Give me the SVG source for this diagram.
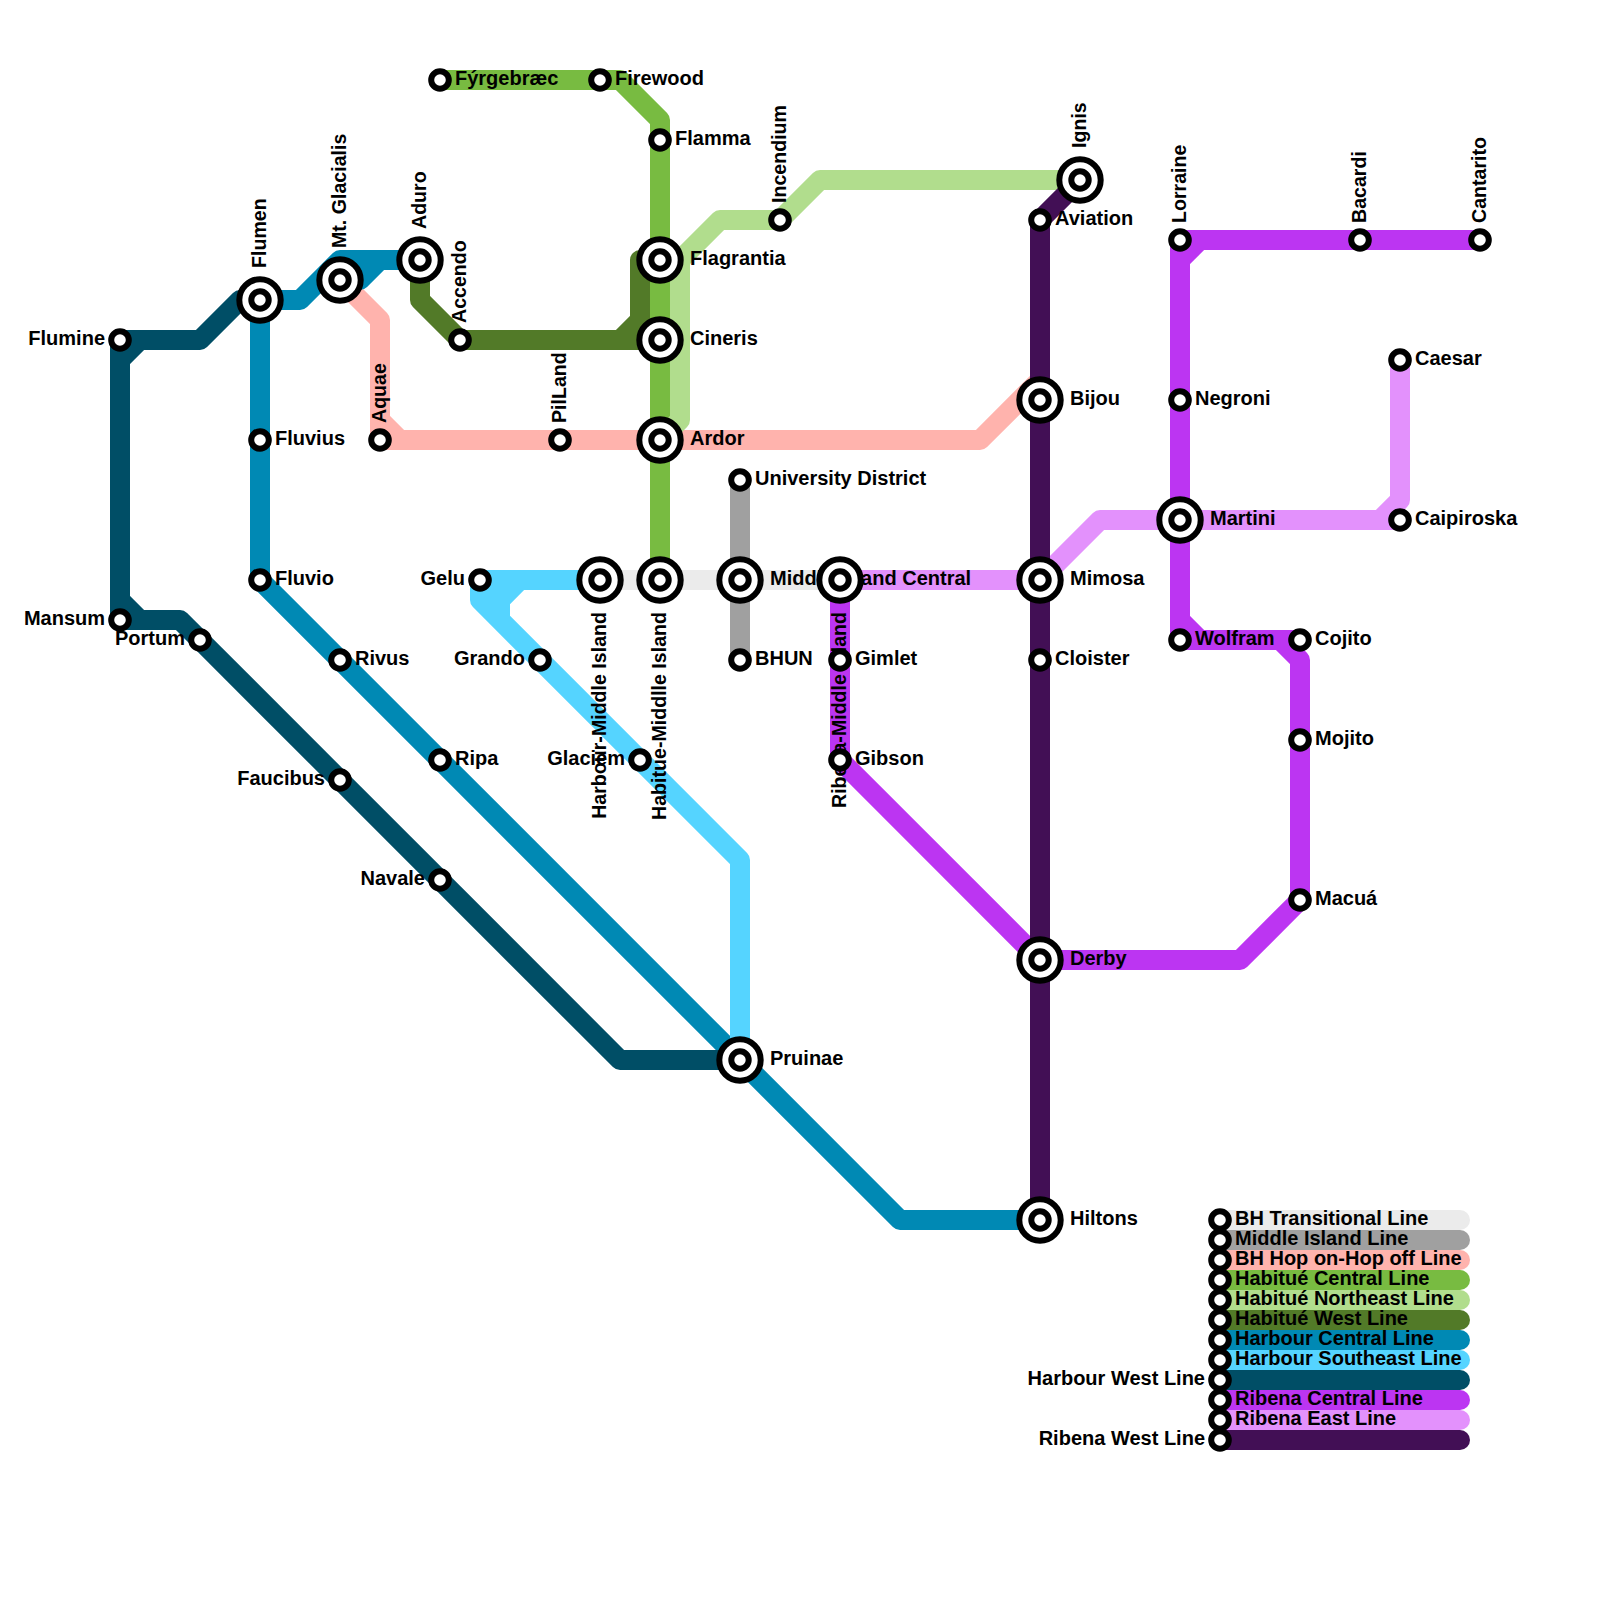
<svg xmlns="http://www.w3.org/2000/svg" width="1600" height="1600" viewBox="0 0 1600 1600">
<style>
.l{fill:none;stroke-width:20;stroke-linecap:round;stroke-linejoin:round}
.tr{stroke:#ebebeb}.mi{stroke:#a0a0a0}.hop{stroke:#ffb3ad}.hc{stroke:#78bb41}.hn{stroke:#b1dd8d}.hw{stroke:#527a28}
.bc{stroke:#0089b4}.bs{stroke:#55d4ff}.bw{stroke:#004e66}.rc{stroke:#bc35f2}.re{stroke:#e391fc}.rw{stroke:#420f55}
text{font-family:"Liberation Sans",Arial,sans-serif;font-weight:700;font-size:20px;fill:#000}
text.r{font-size:19.600px}
.e{text-anchor:end}
.o{fill:#fff;stroke:#000;stroke-width:6}
.s{fill:#fff;stroke:#000;stroke-width:6}
</style>
<defs>
<g id="st"><circle class="s" r="8.800"/></g>
<g id="ix"><circle class="o" r="20.700"/><circle class="s" r="8.700"/></g>
</defs>
<g id="connectors">
<path class="l tr" d="M600 580H840"/>
<path class="l mi" d="M740 480V660"/>
<path class="l hop" d="M340 280L380 320V420L400 440H980L1040 380M380 420V440H400"/>
<path class="l hc" d="M440 80H620L660 120V580"/>
<path class="l hn" d="M1080 180H820L780 220H720L680 260V420L660 440"/>
<path class="l hw" d="M660 260H640V320L620 340H460L420 300V260M620 340H660"/>
<path class="l bc" d="M1040 1220H900L260 580V300H300L340 260H420H380L360 280H340"/>
<path class="l bs" d="M480 580V600L740 860V1060M600 580H520L500 600V620M480 580H520M480 600L500 580M490 590V610"/>
<path class="l bw" d="M740 1060H620L180 620H140L120 600V360L140 340H200L240 300H260M120 360V340H140M120 600V620H140"/>
<path class="l rc" d="M1480 240H1200L1180 260V620L1200 640H1280L1300 660V900L1240 960H1040L840 760V580M1180 260V240H1200M1180 620V640H1200M1280 640H1300"/>
<path class="l re" d="M1400 360V500L1380 520H1100L1040 580H840M1380 520H1400"/>
<path class="l rw" d="M1040 1220V220L1080 180"/>
<path class="l tr" d="M1220 1220H1460"/>
<path class="l mi" d="M1220 1240H1460"/>
<path class="l hop" d="M1220 1260H1460"/>
<path class="l hc" d="M1220 1280H1460"/>
<path class="l hn" d="M1220 1300H1460"/>
<path class="l hw" d="M1220 1320H1460"/>
<path class="l bc" d="M1220 1340H1460"/>
<path class="l bs" d="M1220 1360H1460"/>
<path class="l bw" d="M1220 1380H1460"/>
<path class="l rc" d="M1220 1400H1460"/>
<path class="l re" d="M1220 1420H1460"/>
<path class="l rw" d="M1220 1440H1460"/>
</g>
<g id="labels">
<text x="455" y="85">Fýrgebræc</text>
<text x="615" y="85">Firewood</text>
<text x="675" y="145">Flamma</text>
<text x="690" y="265">Flagrantia</text>
<text x="690" y="345">Cineris</text>
<text x="690" y="445">Ardor</text>
<text x="275" y="445">Fluvius</text>
<text x="275" y="585">Fluvio</text>
<text x="355" y="665">Rivus</text>
<text x="455" y="765">Ripa</text>
<text x="770" y="1065">Pruinae</text>
<text x="1070" y="1225">Hiltons</text>
<text x="1070" y="965">Derby</text>
<text x="1055" y="665">Cloister</text>
<text x="1070" y="585">Mimosa</text>
<text x="1070" y="405">Bijou</text>
<text x="1055" y="225">Aviation</text>
<text x="755" y="485">University District</text>
<text x="770" y="585">Middle Island Central</text>
<text x="755" y="665">BHUN</text>
<text x="855" y="665">Gimlet</text>
<text x="855" y="765">Gibson</text>
<text x="1195" y="405">Negroni</text>
<text x="1210" y="525">Martini</text>
<text x="1195" y="645">Wolfram</text>
<text x="1315" y="645">Cojito</text>
<text x="1315" y="745">Mojito</text>
<text x="1315" y="905">Macuá</text>
<text x="1415" y="365">Caesar</text>
<text x="1415" y="525">Caipiroska</text>
<text class="e" x="105" y="345">Flumine</text>
<text class="e" x="105" y="625">Mansum</text>
<text class="e" x="185" y="645">Portum</text>
<text class="e" x="325" y="785">Faucibus</text>
<text class="e" x="425" y="885">Navale</text>
<text class="e" x="465" y="585">Gelu</text>
<text class="e" x="525" y="665">Grando</text>
<text class="e" x="625" y="765">Glaciem</text>
<text class="r" transform="translate(265.500 268) rotate(-90)">Flumen</text>
<text class="r" transform="translate(345.500 248) rotate(-90)">Mt. Glacialis</text>
<text class="r" transform="translate(425.500 229) rotate(-90)">Aduro</text>
<text class="r" transform="translate(465.500 323) rotate(-90)">Accendo</text>
<text class="r" transform="translate(385.500 423) rotate(-90)">Aquae</text>
<text class="r" transform="translate(565.500 423) rotate(-90)">PilLand</text>
<text class="r" transform="translate(785.500 203) rotate(-90)">Incendium</text>
<text class="r" transform="translate(1085.500 148) rotate(-90)">Ignis</text>
<text class="r" transform="translate(1185.500 223) rotate(-90)">Lorraine</text>
<text class="r" transform="translate(1365.500 223) rotate(-90)">Bacardi</text>
<text class="r" transform="translate(1485.500 223) rotate(-90)">Cantarito</text>
<text class="r e" transform="translate(605.500 612) rotate(-90)">Harbour-Middle Island</text>
<text class="r e" transform="translate(665.500 612) rotate(-90)">Habitue-Middlle Island</text>
<text class="r e" transform="translate(845.500 612) rotate(-90)">Ribena-Middle Island</text>
<text x="1235" y="1225">BH Transitional Line</text>
<text x="1235" y="1245">Middle Island Line</text>
<text x="1235" y="1265">BH Hop on-Hop off Line</text>
<text x="1235" y="1285">Habitué Central Line</text>
<text x="1235" y="1305">Habitué Northeast Line</text>
<text x="1235" y="1325">Habitué West Line</text>
<text x="1235" y="1345">Harbour Central Line</text>
<text x="1235" y="1365">Harbour Southeast Line</text>
<text class="e" x="1205" y="1385">Harbour West Line</text>
<text x="1235" y="1405">Ribena Central Line</text>
<text x="1235" y="1425">Ribena East Line</text>
<text class="e" x="1205" y="1445">Ribena West Line</text>
</g>
<g id="stations">
<use id="fyrgebraec" href="#st" x="440" y="80"/>
<use id="firewood" href="#st" x="600" y="80"/>
<use id="flamma" href="#st" x="660" y="140"/>
<use id="flagrantia" href="#ix" x="660" y="260"/>
<use id="cineris" href="#ix" x="660" y="340"/>
<use id="ardor" href="#ix" x="660" y="440"/>
<use id="habitue-mi" href="#ix" x="660" y="580"/>
<use id="harbour-mi" href="#ix" x="600" y="580"/>
<use id="mi-central" href="#ix" x="740" y="580"/>
<use id="ribena-mi" href="#ix" x="840" y="580"/>
<use id="university" href="#st" x="740" y="480"/>
<use id="bhun" href="#st" x="740" y="660"/>
<use id="gimlet" href="#st" x="840" y="660"/>
<use id="gibson" href="#st" x="840" y="760"/>
<use id="flumine" href="#st" x="120" y="340"/>
<use id="mansum" href="#st" x="120" y="620"/>
<use id="portum" href="#st" x="200" y="640"/>
<use id="faucibus" href="#st" x="340" y="780"/>
<use id="navale" href="#st" x="440" y="880"/>
<use id="flumen" href="#ix" x="260" y="300"/>
<use id="mt-glacialis" href="#ix" x="340" y="280"/>
<use id="aduro" href="#ix" x="420" y="260"/>
<use id="accendo" href="#st" x="460" y="340"/>
<use id="aquae" href="#st" x="380" y="440"/>
<use id="piland" href="#st" x="560" y="440"/>
<use id="fluvius" href="#st" x="260" y="440"/>
<use id="fluvio" href="#st" x="260" y="580"/>
<use id="rivus" href="#st" x="340" y="660"/>
<use id="ripa" href="#st" x="440" y="760"/>
<use id="pruinae" href="#ix" x="740" y="1060"/>
<use id="gelu" href="#st" x="480" y="580"/>
<use id="grando" href="#st" x="540" y="660"/>
<use id="glaciem" href="#st" x="640" y="760"/>
<use id="incendium" href="#st" x="780" y="220"/>
<use id="ignis" href="#ix" x="1080" y="180"/>
<use id="aviation" href="#st" x="1040" y="220"/>
<use id="bijou" href="#ix" x="1040" y="400"/>
<use id="mimosa" href="#ix" x="1040" y="580"/>
<use id="cloister" href="#st" x="1040" y="660"/>
<use id="derby" href="#ix" x="1040" y="960"/>
<use id="hiltons" href="#ix" x="1040" y="1220"/>
<use id="lorraine" href="#st" x="1180" y="240"/>
<use id="bacardi" href="#st" x="1360" y="240"/>
<use id="cantarito" href="#st" x="1480" y="240"/>
<use id="negroni" href="#st" x="1180" y="400"/>
<use id="martini" href="#ix" x="1180" y="520"/>
<use id="wolfram" href="#st" x="1180" y="640"/>
<use id="cojito" href="#st" x="1300" y="640"/>
<use id="mojito" href="#st" x="1300" y="740"/>
<use id="macua" href="#st" x="1300" y="900"/>
<use id="caesar" href="#st" x="1400" y="360"/>
<use id="caipiroska" href="#st" x="1400" y="520"/>
<use id="lg1" href="#st" x="1220" y="1220"/>
<use id="lg2" href="#st" x="1220" y="1240"/>
<use id="lg3" href="#st" x="1220" y="1260"/>
<use id="lg4" href="#st" x="1220" y="1280"/>
<use id="lg5" href="#st" x="1220" y="1300"/>
<use id="lg6" href="#st" x="1220" y="1320"/>
<use id="lg7" href="#st" x="1220" y="1340"/>
<use id="lg8" href="#st" x="1220" y="1360"/>
<use id="lg9" href="#st" x="1220" y="1380"/>
<use id="lg10" href="#st" x="1220" y="1400"/>
<use id="lg11" href="#st" x="1220" y="1420"/>
<use id="lg12" href="#st" x="1220" y="1440"/>
</g>
</svg>
